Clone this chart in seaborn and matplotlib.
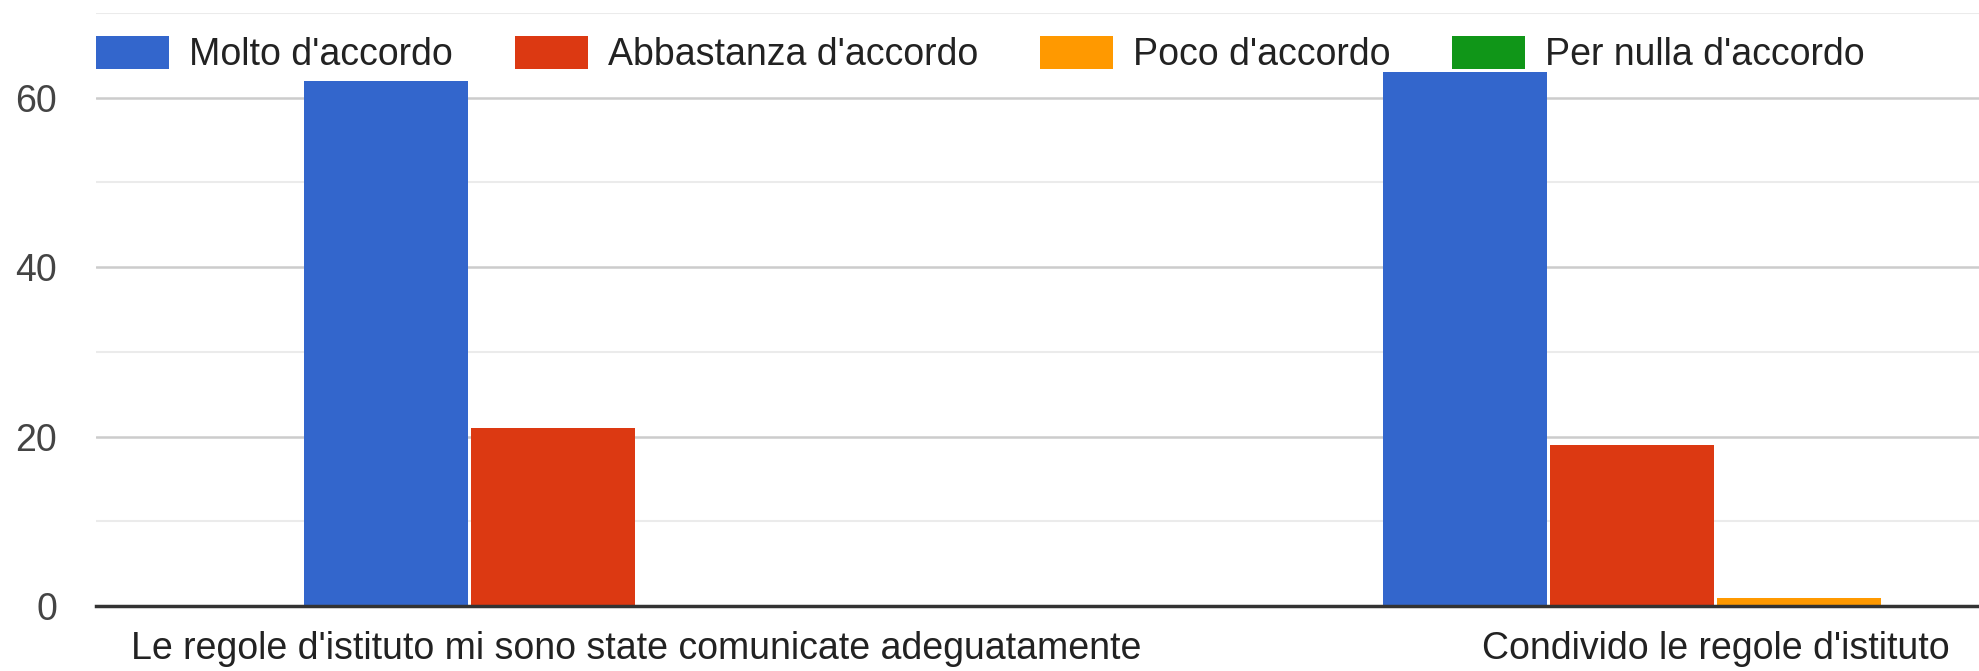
import matplotlib
matplotlib.use("Agg")
import matplotlib.pyplot as plt
import seaborn as sns
import pandas as pd
from matplotlib.ticker import MultipleLocator

categories = ["Le regole d'istituto mi sono state comunicate adeguatamente",
              "Condivido le regole d'istituto"]
series_names = ["Molto d'accordo", "Abbastanza d'accordo", "Poco d'accordo", "Per nulla d'accordo"]
molto = [62, 63]
abbastanza = [21, 19]
poco = [0, 1]
per_nulla = [0, 0]
colors = ["#3366cc", "#dc3912", "#ff9900", "#109618"]
y_ticks = [0, 20, 40, 60]

rows = []
for name, vals in zip(series_names, [molto, abbastanza, poco, per_nulla]):
    for c, v in zip(categories, vals):
        rows.append({"cat": c, "serie": name, "val": v})
df = pd.DataFrame(rows)

sns.set_theme(style="white")
plt.rcParams['font.family'] = ['Liberation Sans', 'DejaVu Sans']

fig = plt.figure(figsize=(19.79, 6.71), dpi=100)
ax = fig.add_axes([96/1979, 65/671, 1883/1979, 593/671])

sns.barplot(data=df, x="cat", y="val", hue="serie", order=categories,
            hue_order=series_names, palette=colors, width=0.62, gap=0.02,
            linewidth=0, saturation=1, ax=ax, legend=True)

ax.set_xlim(-0.501, 1.244)
ax.set_ylim(0, 70)
ax.set_yticks(y_ticks)
ax.yaxis.set_minor_locator(MultipleLocator(10))
ax.set_axisbelow(True)
ax.grid(axis='y', which='major', color='#cccccc', lw=1.8)
ax.grid(axis='y', which='minor', color='#ebebeb', lw=1.5)
ax.grid(axis='x', visible=False)
for s in ['left', 'right', 'top']:
    ax.spines[s].set_visible(False)
ax.spines['bottom'].set_color('#333333')
ax.spines['bottom'].set_linewidth(2.5)
ax.set_xlabel("")
ax.set_ylabel("")
ax.tick_params(axis='y', which='both', length=0, pad=28, labelsize=27, labelcolor='#444444')
ax.tick_params(axis='x', length=0, pad=18, labelsize=27, labelcolor='#222222')

handles, labels = ax.get_legend_handles_labels()
ax.legend(handles, labels, loc='center left', bbox_to_anchor=(0, 0.93), ncol=4,
          frameon=False, fontsize=27, borderpad=0, borderaxespad=0,
          handlelength=1.95, handleheight=1.0, handletextpad=0.53,
          columnspacing=1.65, labelcolor='#222222')

fig.savefig("out.png", dpi=100)
